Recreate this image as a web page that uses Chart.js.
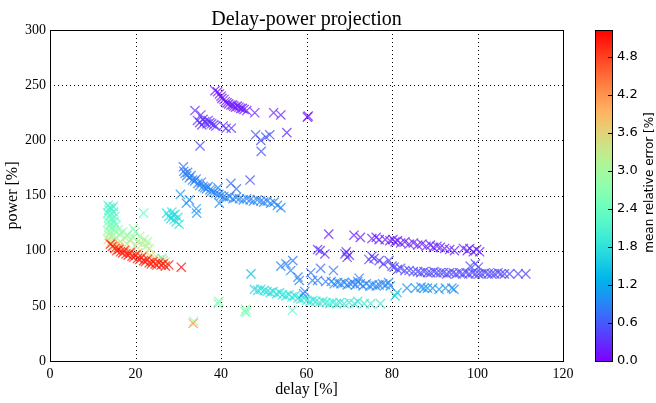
<!DOCTYPE html>
<html><head><meta charset="utf-8">
<script src="https://cdn.jsdelivr.net/npm/chart.js@4/dist/chart.umd.min.js"></script>
<style>html,body{margin:0;padding:0;background:#fff}</style>
</head><body>
<canvas id="c" width="656" height="403" style="width:656px;height:403px;display:block"></canvas>
<script>
// ---- data (delay %, power %, mean relative error %) ----
const delay = [
 38.6,39.2,39.6,40.0,40.2,40.7,41.0,41.4,41.8,42.3,42.7,43.0,43.4,43.8,44.2,44.6,45.0,45.4,46.0,47.9,52.3,54.0,55.4,60.2,60.4,
 33.9,35.3,34.5,35.0,35.5,35.8,36.2,36.7,37.0,37.4,37.8,38.3,38.8,40.5,41.2,42.4,35.1,
 48.1,49.3,49.4,50.5,51.4,46.8,42.3,43.6,
 31.2,31.3,31.6,32.0,32.2,32.6,33.0,33.3,33.8,34.2,34.6,35.0,35.4,35.8,36.2,36.6,37.0,37.4,37.8,38.3,38.8,39.5,40.0,40.6,41.3,42.0,42.8,43.5,44.3,45.2,46.0,46.8,47.6,48.5,49.3,50.0,50.8,51.6,52.4,53.2,54.0,
 30.5,31.9,32.6,34.2,34.3,39.3,39.6,
 27.3,27.8,28.3,28.8,29.0,29.5,29.9,30.2,28.5,29.3,21.9,
 13.6,14.0,13.8,14.4,14.8,13.5,14.2,14.9,13.7,14.5,15.2,13.6,14.3,15.0,13.8,14.6,15.5,13.5,14.2,15.1,13.7,14.5,16.0,13.6,14.4,15.3,
 16.2,17.0,17.5,18.2,18.8,19.5,20.0,20.5,21.0,21.5,22.0,22.5,22.8,23.3,19.5,18.0,16.5,20.0,
 14.0,15.0,16.0,17.5,19.0,20.5,22.0,23.5,24.5,25.5,26.5,27.0,26.2,
 14.2,14.6,15.2,15.6,16.1,16.5,17.0,17.4,17.8,18.3,18.7,19.2,19.6,20.1,20.5,21.0,21.4,21.9,22.3,22.8,23.2,23.7,24.1,24.6,25.0,25.5,26.0,26.5,27.0,27.8,30.7,
 33.6,33.5,39.3,39.5,45.6,45.8,45.9,
 47.0,47.8,48.6,49.3,50.1,50.8,51.5,52.2,53.0,53.7,54.4,55.2,55.9,56.6,57.3,58.0,58.7,59.4,60.1,60.8,61.5,62.2,63.0,63.8,64.6,65.4,66.2,67.0,67.8,68.8,70.0,71.2,72.0,73.5,75.0,77.3,56.7,80.7,81.2,
 54.0,55.2,56.8,56.3,58.0,58.3,59.3,59.6,61.0,61.4,62.6,63.3,64.5,66.3,
 62.6,63.2,64.3,65.2,69.0,69.3,69.5,70.0,
 71.1,72.6,75.3,76.3,77.0,78.4,79.5,80.2,80.7,81.3,82.0,83.0,84.0,85.0,86.0,87.0,88.0,89.0,89.7,90.5,91.3,92.3,93.5,94.6,96.7,97.6,98.2,99.0,99.8,100.5,
 74.6,75.3,75.8,77.0,78.0,79.3,80.0,
 80.5,81.3,82.0,83.0,84.0,85.0,86.0,86.7,87.5,88.3,89.0,89.8,90.5,91.3,92.0,92.8,93.5,94.3,95.0,95.8,96.5,97.3,98.0,98.8,99.5,100.3,101.0,101.8,102.5,103.3,104.0,104.8,105.5,106.3,107.5,109.5,111.3,98.3,100.2,99.5,
 65.8,66.5,67.3,68.0,68.8,69.5,70.2,70.8,71.5,72.0,72.3,72.6,73.2,74.0,74.8,75.5,76.3,77.0,77.8,78.5,79.2,79.6,
 83.5,85.5,86.8,87.5,88.3,89.5,91.0,92.5,94.0,94.5
];
const power = [
 245,244,242,240,238,237,235,234,233,232,232,231,230,231,230,229,229,228,227,225,225,223,207,221,222,
 227,223,218,216,214,219,217,215,218,216,215,214,213,213,211,211,195,
 205,200,190,203,205,164,161,156,
 176,172,170,168,171,166,168,164,163,165,161,159,162,158,157,156,158,155,154,153,152,151,150,149,148,149,147,148,147,146,147,146,145,146,145,144,145,143,144,141,139,
 151,143,146,138,134,157,143,
 134,131,129,132,128,126,130,124,135,133,134,
 141,139,137,138,140,134,133,135,130,129,131,126,125,126,122,121,123,118,117,118,114,113,119,110,109,110,
 115,117,112,114,110,112,117,108,113,106,110,104,108,102,120,106,108,104,
 106,104,103,101,99,98,96,95,93,92,91,90,93,
 106,104,102,100,101,99,98,100,97,96,98,95,94,96,93,92,94,91,90,92,89,88,90,88,87,89,87,88,86,87,85,
 36,34,52,54,45,47,44,
 79,65,64,65,64,63,62,63,61,62,60,59,60,58,59,57,56,57,55,54,55,54,53,54,53,52,53,52,53,52,53,52,54,52,52,52,46,59,62,
 86,88,91,82,76,73,61,63,80,73,73,84,72,82,
 101,100,97,115,97,99,94,96,
 114,112,111,112,110,110,109,110,108,109,107,108,106,107,105,106,104,105,103,104,103,102,101,100,102,100,102,99,101,99,
 92,95,93,91,88,91,86,
 85,83,84,82,82,81,81,80,81,80,80,81,80,80,80,79,80,80,79,80,79,80,79,80,79,79,79,80,79,79,79,80,79,79,79,79,79,86,85,88,
 72,70,71,70,71,69,70,71,69,72,75,70,68,70,68,69,68,69,70,69,71,68,
 66,66,67,66,66,66,65,66,66,65
];
const relErr = [
 0.15,0.12,0.15,0.18,0.12,0.15,0.2,0.15,0.12,0.18,0.15,0.2,0.15,0.12,0.18,0.15,0.2,0.15,0.18,0.2,0.2,0.22,0.25,0.12,0.15,
 0.3,0.3,0.35,0.3,0.35,0.3,0.3,0.35,0.3,0.3,0.35,0.3,0.3,0.3,0.35,0.35,0.5,
 0.55,0.55,0.6,0.55,0.55,0.5,0.75,0.75,
 0.75,0.85,0.9,0.85,0.8,0.9,0.85,0.9,0.95,0.85,0.9,0.95,0.85,0.9,0.95,0.9,0.85,0.95,0.9,0.95,0.9,0.9,0.95,0.9,0.95,0.9,0.9,0.95,0.9,0.95,0.9,0.95,0.9,0.9,0.95,0.9,0.9,0.95,0.9,0.95,0.9,
 1.1,1.0,1.0,1.0,1.05,0.9,0.95,
 1.7,1.75,1.7,1.65,1.8,1.75,1.7,1.8,1.8,1.7,2.3,
 2.1,2.0,2.2,2.1,2.0,2.2,2.3,2.1,2.4,2.3,2.2,2.5,2.4,2.3,2.6,2.5,2.4,2.8,2.7,2.6,3.0,2.9,2.6,3.4,3.3,3.2,
 2.9,2.8,3.0,2.9,3.0,2.9,2.7,3.1,2.9,3.2,3.0,3.2,3.0,3.3,2.6,3.3,3.4,3.4,
 4.0,3.9,4.1,3.8,4.0,3.8,3.9,3.7,3.8,3.6,3.7,3.5,2.2,
 5.0,5.1,5.0,4.9,5.1,5.0,5.1,4.9,5.0,5.1,5.0,5.1,4.9,5.0,5.1,5.0,4.9,5.1,5.0,5.0,5.1,4.9,5.0,5.1,5.0,4.9,5.1,5.0,5.0,5.1,5.15,
 2.9,4.2,2.6,2.7,2.6,2.7,2.5,
 1.4,1.6,1.7,1.75,1.7,1.8,1.75,1.7,1.8,1.75,1.8,1.85,1.8,1.85,1.75,1.9,1.85,1.8,1.9,1.85,1.9,1.85,1.95,1.9,1.9,1.95,1.9,1.95,1.85,1.95,1.9,1.95,1.8,1.9,1.95,1.95,2.2,1.55,1.5,
 0.9,0.85,0.8,0.9,0.85,0.9,0.85,0.8,0.8,0.85,0.8,0.75,0.8,0.8,
 0.35,0.3,0.35,0.2,0.35,0.3,0.35,0.3,
 0.2,0.2,0.25,0.2,0.2,0.25,0.2,0.15,0.2,0.2,0.25,0.2,0.2,0.25,0.2,0.2,0.25,0.2,0.2,0.2,0.25,0.2,0.2,0.25,0.2,0.2,0.25,0.2,0.2,0.25,
 0.4,0.35,0.4,0.45,0.4,0.45,0.45,
 0.45,0.45,0.5,0.45,0.45,0.5,0.45,0.45,0.5,0.45,0.45,0.5,0.45,0.45,0.5,0.45,0.45,0.5,0.45,0.45,0.5,0.45,0.45,0.5,0.45,0.45,0.5,0.45,0.45,0.5,0.45,0.45,0.5,0.45,0.45,0.5,0.45,0.55,0.5,0.5,
 0.95,0.9,0.95,0.9,0.9,0.95,0.9,0.95,0.9,0.85,0.85,0.9,0.95,0.9,0.95,0.9,0.95,0.9,0.9,0.95,0.9,0.95,
 1.0,1.05,1.0,1.0,1.05,1.0,1.0,1.05,1.0,1.0
];
const xTicks = [0, 20, 40, 60, 80, 100, 120];
const yTicks = [0, 50, 100, 150, 200, 250, 300];
const cbTicks = [0.0, 0.6, 1.2, 1.8, 2.4, 3.0, 3.6, 4.2, 4.8];
const cbMin = 0, cbMax = 5.22;
const titleText = 'Delay-power projection';
const xLabel = 'delay [%]', yLabel = 'power [%]', cbLabel = 'mean relative error [%]';

// matplotlib "rainbow" colormap
function rainbow(t, a) {
  t = Math.max(0, Math.min(1, t));
  const r = Math.min(1, Math.abs(2 * t - 0.5));
  const g = Math.max(0, Math.sin(Math.PI * t));
  const b = Math.max(0, Math.cos(Math.PI * t / 2));
  const f = v => Math.round(v * 255);
  return a === undefined ? `rgb(${f(r)},${f(g)},${f(b)})` : `rgba(${f(r)},${f(g)},${f(b)},${a})`;
}

const points = delay.map((d, i) => ({x: d, y: power[i]}));
const colors = relErr.map(e => rainbow((e - cbMin) / (cbMax - cbMin), 0.75));

const SERIF = '"Liberation Serif", "Times New Roman", serif';
const SANS = '"DejaVu Sans", sans-serif';

const deco = {
  id: 'deco',
  beforeDatasetsDraw(chart) {
    const {ctx, chartArea: a, scales: {x, y}} = chart;
    ctx.save();
    ctx.strokeStyle = '#000';
    ctx.lineWidth = 1;
    ctx.setLineDash([1, 3]);
    for (const v of xTicks) {
      const px = Math.round(x.getPixelForValue(v)) + 0.5;
      ctx.beginPath(); ctx.moveTo(px, a.top); ctx.lineTo(px, a.bottom); ctx.stroke();
    }
    for (const v of yTicks) {
      const py = Math.round(y.getPixelForValue(v)) + 0.5;
      ctx.beginPath(); ctx.moveTo(a.left, py); ctx.lineTo(a.right, py); ctx.stroke();
    }
    ctx.restore();
  },
  afterDatasetsDraw(chart) {
    const {ctx, chartArea: a, scales: {cb}} = chart;
    ctx.save();
    // frame
    ctx.strokeStyle = '#000';
    ctx.lineWidth = 1;
    ctx.strokeRect(Math.round(a.left) + 0.5, Math.round(a.top) + 0.5,
                   Math.round(a.right - a.left), Math.round(a.bottom - a.top));
    // title
    ctx.fillStyle = '#000';
    ctx.font = '20px ' + SERIF;
    ctx.textAlign = 'center';
    ctx.textBaseline = 'alphabetic';
    ctx.fillText(titleText, (a.left + a.right) / 2, 25);
    // colorbar
    const bx = Math.round(cb.left + 32), bw = 17;
    const top = cb.getPixelForValue(cbMax), bot = cb.getPixelForValue(cbMin);
    const grad = ctx.createLinearGradient(0, bot, 0, top);
    for (let i = 0; i <= 50; i++) grad.addColorStop(i / 50, rainbow(i / 50));
    ctx.fillStyle = grad;
    ctx.fillRect(bx, top, bw, bot - top);
    ctx.strokeStyle = '#000';
    ctx.strokeRect(bx + 0.5, Math.round(top) + 0.5, bw, Math.round(bot - top));
    ctx.lineWidth = 1;
    for (const v of cbTicks) {
      const py = Math.round(cb.getPixelForValue(v)) + 0.5;
      ctx.beginPath(); ctx.moveTo(bx + bw - 4, py); ctx.lineTo(bx + bw, py); ctx.stroke();
    }
    // colorbar label
    ctx.font = '12px ' + SANS;
    ctx.fillStyle = '#000';
    ctx.translate(653, (top + bot) / 2 - 13);
    ctx.rotate(-Math.PI / 2);
    ctx.textAlign = 'center';
    ctx.textBaseline = 'alphabetic';
    ctx.fillText(cbLabel, 0, 0);
    ctx.restore();
  }
};

const noPad = s => { s.paddingTop = 0; s.paddingBottom = 0; };

new Chart(document.getElementById('c'), {
  type: 'scatter',
  data: {
    datasets: [{
      data: points,
      pointStyle: 'crossRot',
      pointRadius: 6.5,
      pointHoverRadius: 6.5,
      borderWidth: 1.3,
      pointBorderColor: colors,
      borderColor: colors,
      backgroundColor: 'rgba(0,0,0,0)'
    }]
  },
  options: {
    responsive: false,
    animation: false,
    events: [],
    layout: {padding: {top: 30, left: 0, right: 0, bottom: 0}},
    plugins: {legend: {display: false}, tooltip: {enabled: false}, title: {display: false}},
    scales: {
      x: {
        type: 'linear', position: 'bottom', min: 0, max: 120,
        afterBuildTicks: s => { s.ticks = xTicks.map(v => ({value: v})); },
        afterFit: s => { s.height = 42; s.paddingLeft = 0; s.paddingRight = 0; },
        grid: {display: false, drawTicks: false},
        border: {display: false},
        ticks: {color: '#000', font: {family: SERIF, size: 14}, padding: 5, maxRotation: 0, autoSkip: false},
        title: {display: true, text: xLabel, color: '#000', font: {family: SERIF, size: 16}, padding: {top: 0, bottom: 4}}
      },
      y: {
        type: 'linear', position: 'left', min: 0, max: 300,
        afterBuildTicks: s => { s.ticks = yTicks.map(v => ({value: v})); },
        afterFit: s => { s.width = 50; noPad(s); },
        grid: {display: false, drawTicks: false},
        border: {display: false},
        ticks: {color: '#000', font: {family: SERIF, size: 14}, padding: 4, autoSkip: false},
        title: {display: true, text: yLabel, color: '#000', font: {family: SERIF, size: 16}, padding: {top: 3, bottom: 0}}
      },
      cb: {
        type: 'linear', axis: 'y', position: 'right', min: cbMin, max: cbMax,
        afterBuildTicks: s => { s.ticks = cbTicks.map(v => ({value: v})); },
        afterFit: s => { s.width = 93; noPad(s); },
        grid: {display: false, drawTicks: false},
        border: {display: false},
        ticks: {color: '#000', font: {family: SANS, size: 13}, padding: 54, autoSkip: false,
                callback: v => Number(v).toFixed(1)}
      }
    }
  },
  plugins: [deco]
});
</script>
</body></html>
